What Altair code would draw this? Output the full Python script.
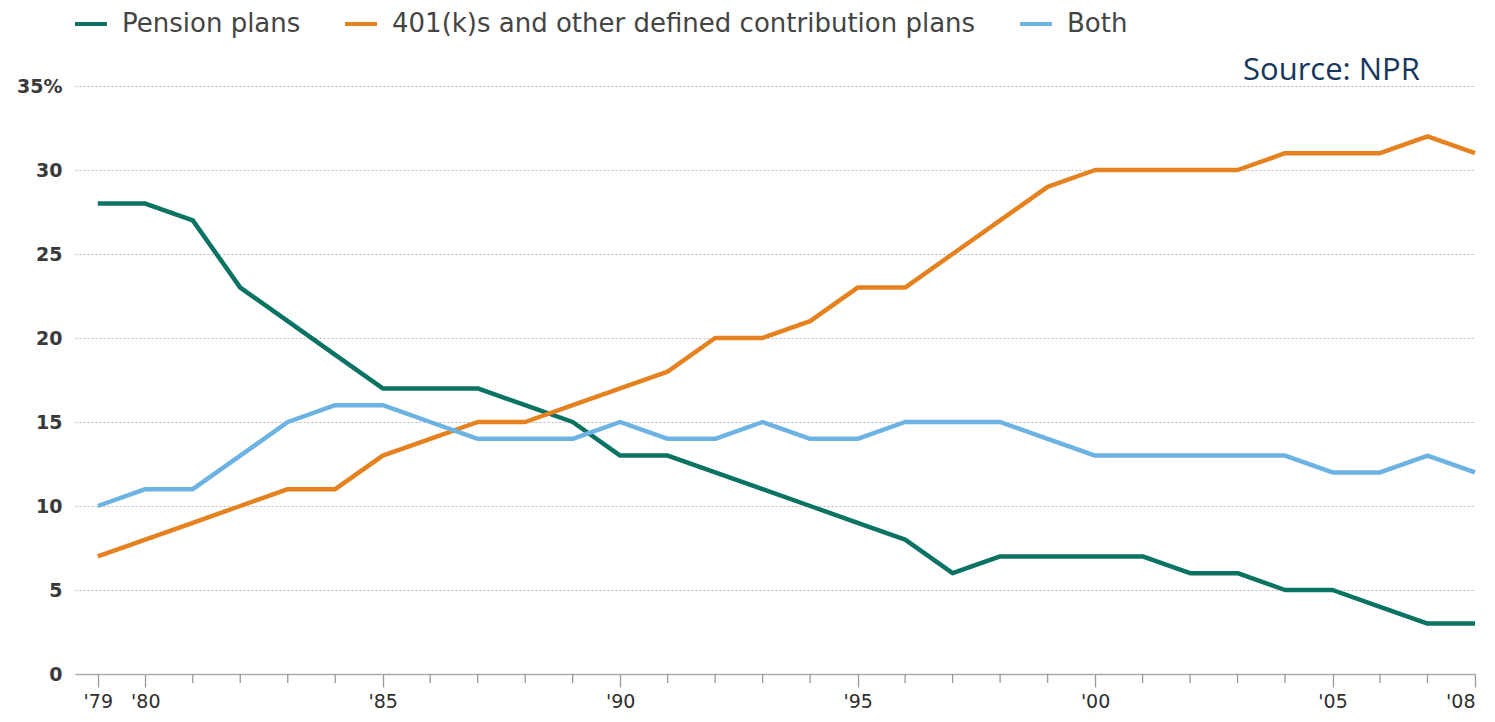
import altair as alt
import pandas as pd

years = list(range(1979, 2009))
pension = [28, 28, 27, 23, 21, 19, 17, 17, 17, 16, 15, 13, 13, 12, 11, 10, 9, 8, 6, 7,
           7, 7, 7, 6, 6, 5, 5, 4, 3, 3]
dc_plans = [7, 8, 9, 10, 11, 11, 13, 14, 15, 15, 16, 17, 18, 20, 20, 21, 23, 23, 25, 27,
            29, 30, 30, 30, 30, 31, 31, 31, 32, 31]
both = [10, 11, 11, 13, 15, 16, 16, 15, 14, 14, 14, 15, 14, 14, 15, 14, 14, 15, 15, 15,
        14, 13, 13, 13, 13, 13, 12, 12, 13, 12]

series_names = ["Pension plans", "401(k)s and other defined contribution plans", "Both"]
series_colors = ["#0b7363", "#e5821f", "#6cb3e3"]
y_ticks = [0, 5, 10, 15, 20, 25, 30, 35]
x_label_years = [1979, 1980, 1985, 1990, 1995, 2000, 2005, 2008]
minor_years = [y for y in years if y not in x_label_years]

rows = []
for name, vals in zip(series_names, [pension, dc_plans, both]):
    for yr, v in zip(years, vals):
        rows.append({"year": yr, "value": v, "series": name})
df = pd.DataFrame(rows)

x_scale = alt.Scale(domain=[1978.52, 2008.0], nice=False, zero=False)

lines = alt.Chart(df).mark_line(strokeWidth=4.5, strokeJoin="round").encode(
    x=alt.X("year:Q", scale=x_scale,
            axis=alt.Axis(values=x_label_years,
                          labelExpr="\"'\" + substring(toString(datum.value), 2, 4)",
                          title=None, grid=False,
                          tickSize=13, tickColor="#999", tickWidth=1.3,
                          domainColor="#aaa", domainWidth=1.5,
                          labelFont="DejaVu Sans", labelFontSize=19,
                          labelColor="#2e2e2e", labelPadding=5)),
    y=alt.Y("value:Q",
            scale=alt.Scale(domain=[0, 35], nice=False),
            axis=alt.Axis(values=y_ticks, title=None, grid=True, gridDash=[2, 2],
                          gridColor="#bdbdbd", gridWidth=1.2, domain=False, ticks=False,
                          labelExpr="datum.value == 35 ? '35%' : datum.label",
                          labelFont="DejaVu Sans", labelFontSize=19,
                          labelFontWeight="bold", labelColor="#3a3a3a", labelPadding=13)),
    color=alt.Color("series:N",
                    scale=alt.Scale(domain=series_names, range=series_colors),
                    sort=series_names,
                    legend=alt.Legend(orient="none", legendX=-2, legendY=-80,
                                      direction="horizontal", title=None,
                                      symbolType="stroke", symbolStrokeWidth=4,
                                      symbolSize=1024, columnPadding=36, labelOffset=13,
                                      labelFont="DejaVu Sans", labelFontSize=26,
                                      labelColor="#444444", labelLimit=1000)),
    detail="series:N",
)

minor_ticks = alt.Chart(pd.DataFrame({"year": minor_years})).mark_rule(
    color="#999", strokeWidth=1.3
).encode(x=alt.X("year:Q", scale=x_scale), y=alt.value(588), y2=alt.value(597))

source = alt.Chart(pd.DataFrame({"t": ["Source: NPR"]})).mark_text(
    font="Open Sans", fontSize=31, color="#17375e", align="left", baseline="middle"
).encode(text="t:N", x=alt.value(1168), y=alt.value(-15))

chart = alt.layer(lines, minor_ticks, source).properties(
    width=1400, height=588,
    background="white",
    padding={"left": 67, "top": 78, "right": 12, "bottom": 44},
    autosize=alt.AutoSizeParams(type="none"),
).configure_view(strokeWidth=0)

chart.save("out.html", embed_options={"renderer": "svg", "actions": False})
